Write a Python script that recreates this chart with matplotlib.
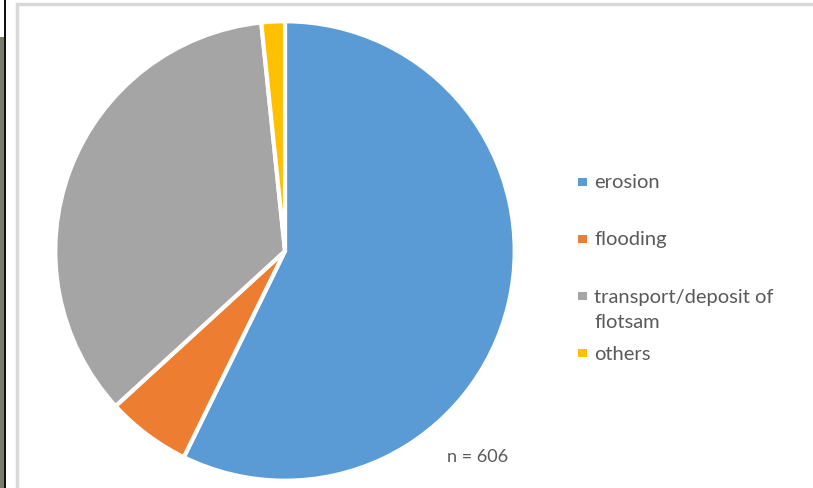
import matplotlib
matplotlib.use("Agg")
import matplotlib.pyplot as plt
from matplotlib.patches import Rectangle

# data
labels = ["erosion", "flooding", "transport/deposit of\nflotsam", "others"]
counts = [347, 36, 213, 10]
colors = ["#5B9BD5", "#ED7D31", "#A5A5A5", "#FFC000"]
n_total = sum(counts)

plt.rcParams["font.family"] = ["Lato", "DejaVu Sans"]
text_color = "#595959"

fig = plt.figure(figsize=(8.13, 4.89), dpi=100)

# chart frame and left screenshot edge
fig.patches.append(Rectangle((17 / 813, -0.1), 1.2, (489 - 5) / 489 + 0.1,
                             transform=fig.transFigure, facecolor="white",
                             edgecolor="#D9D9D9", linewidth=2.5, zorder=-2))
fig.patches.append(Rectangle((0, 0), 4 / 813, (489 - 38) / 489,
                             transform=fig.transFigure, facecolor="#7a7a6a",
                             edgecolor="none", zorder=-2))
fig.patches.append(Rectangle((4 / 813, 0), 2 / 813, 1,
                             transform=fig.transFigure, facecolor="#111111",
                             edgecolor="none", zorder=-2))

ax = fig.add_axes([53 / 813, 5 / 489, 464 / 813, 464 / 489])
ax.pie(counts, colors=colors, startangle=90, counterclock=False,
       wedgeprops=dict(edgecolor="white", linewidth=3))
ax.set_xlim(-1.01, 1.01)
ax.set_ylim(-1.01, 1.01)
ax.set_aspect("equal")
ax.axis("off")

# legend, laid out like the office chart (marker sits at the first line)
legend_y = [183, 240, 297, 354]
for lab, col, y in zip(labels, colors, legend_y):
    fig.patches.append(Rectangle((578 / 813, 1 - (y + 4) / 489), 9 / 813, 8 / 489,
                                 transform=fig.transFigure, facecolor=col,
                                 edgecolor="none"))
    for i, line in enumerate(lab.split("\n")):
        fig.text(594 / 813, 1 - (y + 26 * i) / 489, line, fontsize=14.5,
                 color=text_color, va="center", ha="left")

fig.text(447 / 813, 1 - 457 / 489, "n = %d" % n_total, fontsize=13,
         color=text_color, va="center", ha="left")

fig.savefig("out.png", dpi=100)
